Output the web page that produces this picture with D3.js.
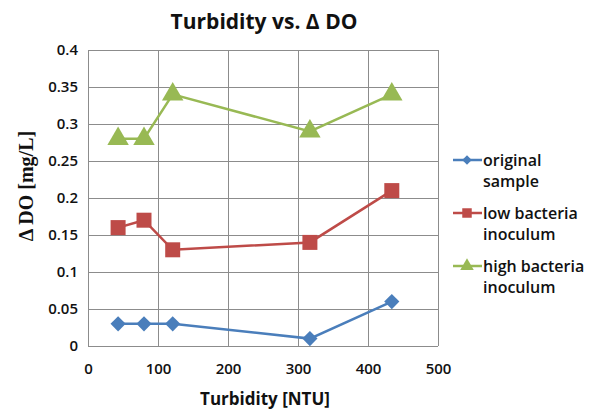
<!DOCTYPE html>
<html>
<head>
<meta charset="utf-8">
<script src="https://cdn.jsdelivr.net/npm/d3@7"></script>
<style>
  body { margin: 0; background: #fff; }
  text { font-family: "Open Sans", sans-serif; }
</style>
</head>
<body>
<svg id="chart" width="601" height="414"></svg>
<script>
// data
const turbidity = [43, 80, 121, 317, 434];
const originalSample = [0.03, 0.03, 0.03, 0.01, 0.06];
const lowBacteria = [0.16, 0.17, 0.13, 0.14, 0.21];
const highBacteria = [0.28, 0.28, 0.34, 0.29, 0.34];
const xTicks = [0, 100, 200, 300, 400, 500];
const yTicks = [0, 0.05, 0.1, 0.15, 0.2, 0.25, 0.3, 0.35, 0.4];
const seriesNames = [["original", "sample"], ["low bacteria", "inoculum"], ["high bacteria", "inoculum"]];

const series = [
  {name: seriesNames[0], values: originalSample, color: "#4A7EBB", symbol: d3.symbolSquare, size: 115, rot: 45},
  {name: seriesNames[1], values: lowBacteria, color: "#BE4B48", symbol: d3.symbolSquare, size: 225, rot: 0},
  {name: seriesNames[2], values: highBacteria, color: "#98B954", symbol: d3.symbolTriangle, size: 200, rot: 0}
];

const margin = {top: 50, right: 163, bottom: 68, left: 88},
  width = 601 - margin.left - margin.right,
  height = 414 - margin.top - margin.bottom;

const svg = d3.select("#chart");
const chart = svg.append("g")
  .attr("transform", "translate(" + margin.left + "," + margin.top + ")");

const xScale = d3.scaleLinear().domain([0, 500]).range([0, width]);
const yScale = d3.scaleLinear().domain([0, 0.4]).range([height, 0]);

// gridlines
chart.append("g")
  .selectAll("line.h")
  .data(yTicks)
  .enter().append("line")
  .attr("x1", 0).attr("x2", width)
  .attr("y1", d => Math.round(yScale(d)) + 0.5)
  .attr("y2", d => Math.round(yScale(d)) + 0.5)
  .attr("stroke", "#8c8c8c").attr("stroke-width", 1);

chart.append("g")
  .selectAll("line.v")
  .data(xTicks)
  .enter().append("line")
  .attr("y1", 0).attr("y2", height)
  .attr("x1", d => Math.round(xScale(d)) + 0.5)
  .attr("x2", d => Math.round(xScale(d)) + 0.5)
  .attr("stroke", "#8c8c8c").attr("stroke-width", 1);

// axes
const xAxis = chart.append("g")
  .attr("transform", "translate(0," + height + ")")
  .call(d3.axisBottom(xScale).tickValues(xTicks).tickSize(0).tickPadding(17).tickFormat(d3.format("d")));
const yAxis = chart.append("g")
  .call(d3.axisLeft(yScale).tickValues(yTicks).tickSize(0).tickPadding(10).tickFormat(d => d === 0 ? "0" : String(+d.toFixed(2))));

[xAxis, yAxis].forEach(a => {
  a.select(".domain").remove();
  a.selectAll("text")
    .style("font-family", "'Open Sans', sans-serif")
    .style("font-size", "15px")
    .style("font-weight", "600")
    .attr("fill", "#111");
});

// lines + markers
const line = d3.line()
  .x((d, i) => xScale(turbidity[i]))
  .y(d => yScale(d));

series.forEach(s => {
  chart.append("path")
    .datum(s.values)
    .attr("d", line)
    .attr("fill", "none")
    .attr("stroke", s.color)
    .attr("stroke-width", 2.5);

  chart.selectAll(null)
    .data(s.values)
    .enter().append("path")
    .attr("d", d3.symbol().type(s.symbol).size(s.size))
    .attr("transform", (d, i) => "translate(" + xScale(turbidity[i]) + "," + yScale(d) + ") rotate(" + s.rot + ")")
    .attr("fill", s.color);
});

// title
svg.append("text")
  .attr("x", 264).attr("y", 29)
  .attr("text-anchor", "middle")
  .style("font-size", "21px")
  .style("font-weight", "bold")
  .attr("fill", "#111")
  .text("Turbidity vs. Δ DO");

// axis titles
svg.append("text")
  .attr("x", margin.left + width / 2 + 2).attr("y", 405)
  .attr("text-anchor", "middle")
  .style("font-size", "17px")
  .style("font-weight", "bold")
  .attr("fill", "#111")
  .text("Turbidity [NTU]");

svg.append("text")
  .attr("transform", "translate(33,186) rotate(-90)")
  .attr("text-anchor", "middle")
  .style("font-family", "'Liberation Serif', serif")
  .style("font-size", "20px")
  .style("font-weight", "bold")
  .attr("fill", "#111")
  .text("Δ DO [mg/L]");

// legend
const legend = svg.append("g").attr("transform", "translate(453,160)");
series.forEach((s, i) => {
  const g = legend.append("g").attr("transform", "translate(0," + (i * 53) + ")");
  g.append("line")
    .attr("x1", 0).attr("x2", 29)
    .attr("y1", 0).attr("y2", 0)
    .attr("stroke", s.color).attr("stroke-width", 2.5);
  g.append("path")
    .attr("d", d3.symbol().type(s.symbol).size(s.size * 0.4))
    .attr("transform", "translate(14,0) rotate(" + s.rot + ")")
    .attr("fill", s.color);
  g.selectAll("text")
    .data(s.name)
    .enter().append("text")
    .attr("x", 30)
    .attr("y", (d, j) => 6 + j * 21)
    .style("font-size", "16px")
    .style("font-weight", "600")
    .attr("fill", "#111")
    .text(d => d);
});
</script>
</body>
</html>
